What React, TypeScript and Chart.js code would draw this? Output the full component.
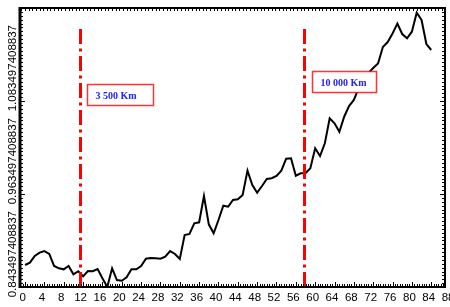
import { useEffect, useRef } from "react";
import { Chart, registerables } from "chart.js";

Chart.register(...registerables);

// ---- data ----
const xIndex = [
  0, 1, 2, 3, 4, 5, 6, 7, 8, 9, 10, 11, 12, 13, 14, 15, 16, 17, 18, 19, 20,
  21, 22, 23, 24, 25, 26, 27, 28, 29, 30, 31, 32, 33, 34, 35, 36, 37, 38, 39, 40,
  41, 42, 43, 44, 45, 46, 47, 48, 49, 50, 51, 52, 53, 54, 55, 56, 57, 58, 59, 60,
  61, 62, 63, 64, 65, 66, 67, 68, 69, 70, 71, 72, 73, 74, 75, 76, 77, 78, 79, 80,
  81, 82, 83, 84,
];
const values = [
  0.8719, 0.8749, 0.8835, 0.8878, 0.8899, 0.8861, 0.8706, 0.8676, 0.8663, 0.8706,
  0.8599, 0.8638, 0.8573, 0.8641, 0.8638, 0.8667, 0.8547, 0.8435, 0.8676, 0.8525,
  0.8516, 0.856, 0.8663, 0.8663, 0.8706, 0.88, 0.8809, 0.8805, 0.88, 0.8826,
  0.8899, 0.8861, 0.8796, 0.9106, 0.9119, 0.9257, 0.927, 0.9609, 0.9244, 0.9128,
  0.9299, 0.9484, 0.9471, 0.9558, 0.9567, 0.9622, 0.9936, 0.9751, 0.9652, 0.9738,
  0.9829, 0.9838, 0.9867, 0.9936, 1.009, 1.0096, 0.9871, 0.9902, 0.9902, 0.9967,
  1.0225, 1.0125, 1.0289, 1.0612, 1.0547, 1.0439, 1.0632, 1.077, 1.0848, 1.1003,
  1.1106, 1.1196, 1.1261, 1.1319, 1.1532, 1.1596, 1.1706, 1.1835, 1.1699, 1.1644,
  1.1729, 1.1974, 1.188, 1.157, 1.1493,
];
const yTickValues = [0.843497408837, 0.963497408837, 1.083497408837, 1.203497408837];
const yTickLabels = ["0.843497408837", "0.963497408837", "1.083497408837", ""];
const xTickValues = [0, 4, 8, 12, 16, 20, 24, 28, 32, 36, 40, 44, 48, 52, 56, 60, 64, 68, 72, 76, 80, 84, 88];
const xRange = [-1.05, 86.85];
const markerX = [11.3, 57.7];
const markerTop = 1.1765;
const markerLabels = ["3 500 Km", "10 000 Km"];
const labelBoxX = [12.85, 59.28];
const labelBoxY = [1.105, 1.1226];
const labelBoxW = [66, 64];

const decorPlugin = {
  id: "decor",
  afterDatasetsDraw(chart: any) {
    const { ctx, scales } = chart;
    const x = scales.x;
    const y = scales.y;
    ctx.save();
    // red dash-dot markers
    ctx.strokeStyle = "#ff0000";
    ctx.lineWidth = 3;
    ctx.setLineDash([15, 4.5, 3, 4.5]);
    markerX.forEach((mx) => {
      const px = Math.round(x.getPixelForValue(mx)) + 0.5;
      ctx.beginPath();
      ctx.moveTo(px, y.getPixelForValue(markerTop));
      ctx.lineTo(px, y.getPixelForValue(y.min));
      ctx.stroke();
    });
    ctx.setLineDash([]);
    // annotation boxes
    ctx.font = 'bold 10px "Liberation Serif"';
    markerLabels.forEach((t, k) => {
      const bx = Math.round(x.getPixelForValue(labelBoxX[k])) + 0.5;
      const by = Math.round(y.getPixelForValue(labelBoxY[k])) + 0.5;
      const w = labelBoxW[k];
      const h = 21;
      ctx.fillStyle = "#ffffff";
      ctx.fillRect(bx, by, w, h);
      ctx.strokeStyle = "rgba(255,0,0,0.8)";
      ctx.lineWidth = 1.5;
      ctx.strokeRect(bx, by, w, h);
      ctx.fillStyle = "#2222ff";
      ctx.textBaseline = "middle";
      ctx.textAlign = "left";
      ctx.fillText(t, bx + 8, by + h / 2 + 1);
    });
    ctx.restore();
  },
  afterDraw(chart: any) {
    const { ctx, chartArea: a, scales } = chart;
    const x = scales.x;
    const y = scales.y;
    ctx.save();
    ctx.strokeStyle = "#000";
    ctx.lineWidth = 1;
    // bottom / top minor ticks
    for (let v = Math.ceil(x.min * 2) / 2; v <= x.max; v += 0.5) {
      const px = Math.round(x.getPixelForValue(v)) + 0.5;
      const major = Math.abs(v % 4) < 1e-6;
      ctx.beginPath();
      ctx.moveTo(px, a.bottom);
      ctx.lineTo(px, a.bottom - (major ? 5 : 3));
      ctx.stroke();
    }
    for (let v = Math.ceil(x.min / 0.75) * 0.75; v <= x.max; v += 0.75) {
      const px = Math.round(x.getPixelForValue(v)) + 0.5;
      ctx.beginPath();
      ctx.moveTo(px, a.top);
      ctx.lineTo(px, a.top + 3);
      ctx.stroke();
    }
    // left / right minor ticks
    for (let k = 0; ; k++) {
      const v = y.min + k * 0.005;
      if (v > y.max + 1e-9) break;
      const py = Math.round(y.getPixelForValue(v)) + 0.5;
      const major = k % 24 === 0;
      ctx.beginPath();
      ctx.moveTo(a.left, py);
      ctx.lineTo(a.left + (major ? 5 : 3), py);
      ctx.moveTo(a.right, py);
      ctx.lineTo(a.right - (major ? 5 : 3), py);
      ctx.stroke();
    }
    // frame
    ctx.lineWidth = 2;
    ctx.strokeRect(a.left, a.top, a.right - a.left, a.bottom - a.top);
    ctx.lineWidth = 3;
    ctx.beginPath();
    ctx.moveTo(a.left, a.top - 1);
    ctx.lineTo(a.left, a.bottom + 1);
    ctx.stroke();
    ctx.restore();
  },
};

export default function App() {
  const ref = useRef<HTMLCanvasElement | null>(null);
  useEffect(() => {
    document.body.style.margin = "0";
    if (!ref.current) return;
    const chart = new Chart(ref.current, {
      type: "line",
      data: {
        datasets: [
          {
            data: xIndex.map((xv, i) => ({ x: xv, y: values[i] })),
            borderColor: "#000000",
            borderWidth: 2,
            pointRadius: 0,
            tension: 0,
            fill: false,
          },
        ],
      },
      options: {
        animation: false,
        responsive: false,
        events: [],
        layout: { padding: { top: 8, right: 5, left: 0, bottom: 0 } },
        plugins: { legend: { display: false }, tooltip: { enabled: false }, title: { display: false } },
        scales: {
          x: {
            type: "linear",
            min: xRange[0],
            max: xRange[1],
            border: { display: false },
            grid: { display: false, drawTicks: false },
            afterBuildTicks: (s: any) => {
              s.ticks = xTickValues.map((v) => ({ value: v }));
            },
            afterFit: (s: any) => {
              s.height = 20;
              s.paddingLeft = 0;
              s.paddingRight = 0;
            },
            ticks: {
              autoSkip: false,
              maxRotation: 0,
              minRotation: 0,
              padding: 4,
              labelOffset: -2.5,
              color: "#000",
              font: { family: "Liberation Sans", size: 11.5 },
              callback: (v: any) => String(v),
            },
          },
          y: {
            type: "linear",
            min: yTickValues[0],
            max: yTickValues[3],
            border: { display: false },
            grid: { display: false, drawTicks: false },
            afterBuildTicks: (s: any) => {
              s.ticks = yTickValues.map((v) => ({ value: v }));
            },
            afterFit: (s: any) => {
              s.width = 20;
              s.paddingTop = 0;
              s.paddingBottom = 0;
            },
            ticks: {
              autoSkip: false,
              minRotation: 90,
              maxRotation: 90,
              crossAlign: "near",
              padding: 7.5,
              labelOffset: -76,
              color: "#000",
              font: { family: "Liberation Sans", size: 11.5 },
              callback: (_v: any, i: number) => yTickLabels[i],
            },
          },
        },
      },
      plugins: [decorPlugin],
    });
    return () => chart.destroy();
  }, []);
  return <canvas ref={ref} width={450} height={307} style={{ display: "block" }} />;
}
